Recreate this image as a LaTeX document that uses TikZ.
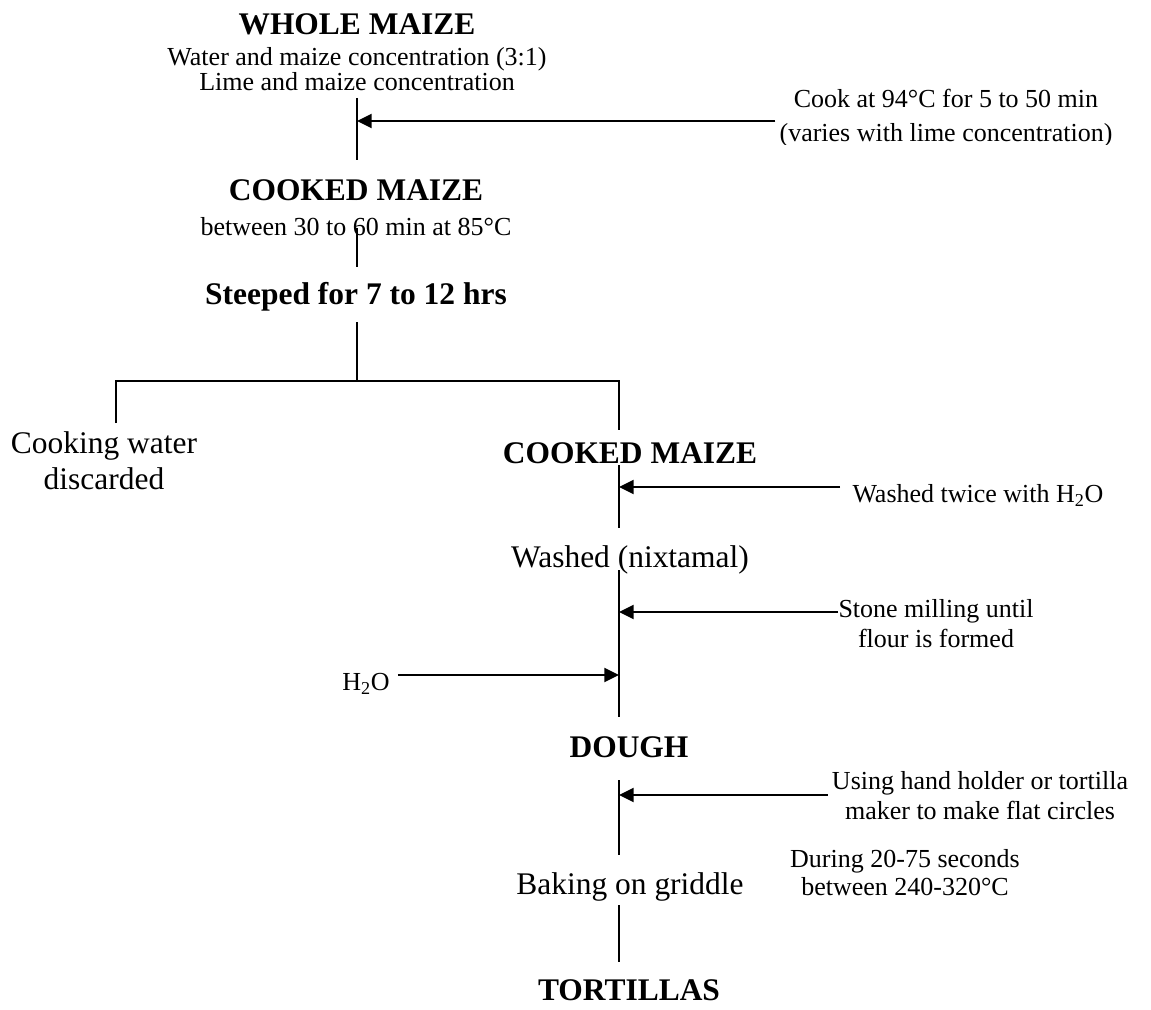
\documentclass[tikz,border=0pt]{standalone}
\usepackage{fontspec}
\setmainfont{Liberation Serif}
\usetikzlibrary{arrows.meta}

\begin{document}
\begin{tikzpicture}[
    x=0.75pt, y=-0.75pt,
    head/.style={font=\fontsize{23.6}{28}\selectfont\bfseries,
                 anchor=base, inner sep=0pt},
    big/.style={font=\fontsize{23.6}{26.3}\selectfont,
                anchor=base, align=center, inner sep=0pt},
    note/.style={font=\fontsize{19.5}{22.5}\selectfont,
                 anchor=base, align=center, inner sep=0pt},
    flow/.style={line width=1.1pt},
    feed/.style={-{Triangle[length=11pt, width=10.5pt]}, line width=1.5pt},
  ]
    \useasboundingbox (0,0) rectangle (1151,1009);

    % upper chain
    \node[head] (whole)   at (357,35)  {WHOLE MAIZE};
    \node[note, font=\fontsize{19.5}{18.8}\selectfont] (ratio) at (357,91)
                                       {Water and maize concentration (3:1)\\
                                        Lime and maize concentration};
    \begin{scope}
      \clip (700,80) rectangle (1151,145);
      \node[note, font=\fontsize{19.5}{25.5}\selectfont] (cook) at (946,142)
                                       {Cook at 94°C for 5 to 50 min\\
                                        (varies with lime concentration)};
    \end{scope}
    \node[head] (cooked1) at (356,200) {COOKED MAIZE};
    \node[note] (hold)    at (356,235) {between 30 to 60 min at 85°C};
    \node[head] (steeped) at (356,304) {Steeped for 7 to 12 hrs};
    \node[big]  (discard) at (104,489) {Cooking water\\discarded};

    % lower chain
    \node[head] (cooked2) at (630,463) {COOKED MAIZE};
    \node[note] (wash)    at (978,502) {Washed twice with H\textsubscript{2}O};
    \node[big]  (nixt)    at (630,567) {Washed (nixtamal)};
    \node[note] (stone)   at (936,647) {Stone milling until\\flour is formed};
    \node[note] (water)   at (366,690) {H\textsubscript{2}O};
    \node[head] (dough)   at (629,757) {DOUGH};
    \node[note] (press)   at (980,819) {Using hand holder or tortilla\\
                                        maker to make flat circles};
    \node[big]  (baking)  at (630,894) {Baking on griddle};
    \node[note, font=\fontsize{19.5}{21}\selectfont] (during) at (905,895)
                                       {During 20-75 seconds\\between 240-320°C};
    \node[head] (tort)    at (629,1000) {TORTILLAS};

    % trunk points
    \coordinate (u1) at (357,98);   \coordinate (u2) at (357,160);
    \coordinate (u3) at (357,228);  \coordinate (u4) at (357,267);
    \coordinate (u5) at (357,322);  \coordinate (split) at (357,381);
    \coordinate (waste) at (116,423);
    \coordinate (l1) at (619,430);  \coordinate (l2) at (619,465);
    \coordinate (l3) at (619,528);  \coordinate (l4) at (619,570);
    \coordinate (l5) at (619,717);  \coordinate (l6) at (619,780);
    \coordinate (l7) at (619,855);  \coordinate (l8) at (619,905);
    \coordinate (l9) at (619,962);

    % inputs
    \coordinate (heat)  at (357,121);
    \coordinate (rinse) at (619,487);
    \coordinate (mill)  at (619,612);
    \coordinate (addw)  at (619,675);
    \coordinate (flat)  at (619,795);

    \draw[flow] (u1) -- (u2);
    \draw[flow] (u3) -- (u4);
    \draw[flow] (u5) -- (split);
    \draw[flow] (waste) |- (split) -| (l1);
    \draw[flow] (l2) -- (l3);
    \draw[flow] (l4) -- (l5);
    \draw[flow] (l6) -- (l7);
    \draw[flow] (l8) -- (l9);

    \draw[feed] ([xshift=-3pt]cook.west |- heat) -- (heat);
    \draw[feed] ([xshift=-9pt]wash.west |- rinse) -- (rinse);
    \draw[feed] (stone.west |- mill) -- (mill);
    \draw[feed] ([xshift=6pt]water.east |- addw) -- (addw);
    \draw[feed] ([xshift=-3pt]press.west |- flat) -- (flat);
\end{tikzpicture}
\end{document}
